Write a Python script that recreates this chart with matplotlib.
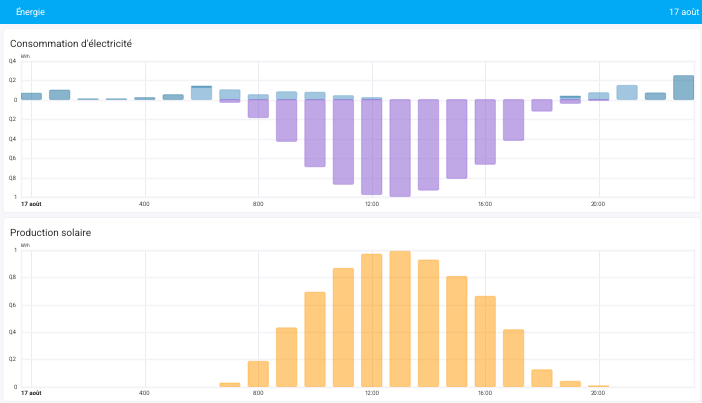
import matplotlib
matplotlib.use("Agg")
import matplotlib.pyplot as plt
from matplotlib.colors import to_rgba
from matplotlib.patches import FancyBboxPatch, Rectangle

plt.rcParams['font.family'] = ['Roboto', 'DejaVu Sans']
plt.rcParams['text.hinting'] = 'no_hinting'
plt.rcParams['text.hinting_factor'] = 1

W, H = 702, 403

hours = list(range(24))
# kWh
grid_used = [0.065, 0.097, 0.007, 0.007, 0.02, 0.05, 0.012, 0, 0, 0, 0, 0, 0, 0, 0, 0, 0, 0, 0, 0.012, 0, 0, 0.068, 0.245]
other_used = [0, 0, 0, 0, 0, 0, 0.126, 0.1, 0.05, 0.08, 0.075, 0.04, 0.02, 0, 0, 0, 0, 0, 0, 0.023, 0.07, 0.145, 0, 0]
returned = [0, 0, 0, 0, 0, 0, 0, 0.03, 0.186, 0.43, 0.69, 0.87, 0.975, 0.995, 0.93, 0.81, 0.665, 0.42, 0.12, 0.04, 0.01, 0, 0, 0]
solar = [0, 0, 0, 0, 0, 0, 0, 0.027, 0.185, 0.43, 0.69, 0.864, 0.968, 0.988, 0.925, 0.805, 0.66, 0.416, 0.124, 0.04, 0.007, 0, 0, 0]

hour_ticks = [0, 4, 8, 12, 16, 20]
hour_labels = ["17 août", "4:00", "8:00", "12:00", "16:00", "20:00"]
top_ticks = [0.4, 0.2, 0, -0.2, -0.4, -0.6, -0.8, -1]
top_labels = ["0,4", "0,2", "0", "0,2", "0,4", "0,6", "0,8", "1"]
bottom_ticks = [0, 0.2, 0.4, 0.6, 0.8, 1]
bottom_labels = ["0", "0,2", "0,4", "0,6", "0,8", "1"]

GRID_COL = "#126a9a"
OTHER_COL = "#488fc2"
RETURN_COL = "#8353d1"
SOLAR_COL = "#ff9800"
BAR_W = 0.72


def px_axes(fig, left, top, right, bottom):
    return fig.add_axes([left / W, 1 - bottom / H, (right - left) / W, (bottom - top) / H])


def bars(ax, values, color, base=None):
    base = base or [0] * len(values)
    xs = [h for h, v in zip(hours, values) if v != 0]
    vals = [v for v in values if v != 0]
    bots = [b for b, v in zip(base, values) if v != 0]
    container = ax.bar(xs, vals, width=BAR_W, bottom=bots, alpha=0)

    # coins arrondis : on remplace chaque barre par une boite de meme taille
    bbox = ax.get_position()
    x_per_px = (ax.get_xlim()[1] - ax.get_xlim()[0]) / (bbox.width * W)
    y_per_px = abs(ax.get_ylim()[1] - ax.get_ylim()[0]) / (bbox.height * H)
    aspect = y_per_px / x_per_px
    for rect in container:
        x, y, w, h = rect.get_x(), rect.get_y(), rect.get_width(), rect.get_height()
        if h < 0:
            y, h = y + h, -h
        r = min(1.4 * x_per_px, h / aspect / 2)
        ax.add_patch(FancyBboxPatch((x, y), w, h, boxstyle=f"round,pad=0,rounding_size={r}",
                                    mutation_aspect=aspect,
                                    facecolor=to_rgba(color, 0.5), edgecolor=to_rgba(color, 0.3),
                                    linewidth=0.8, zorder=3))


def setup(ax, ticks, labels, ylim):
    ax.set_xlim(-0.363, 23.36)
    ax.set_ylim(*ylim)
    ax.set_xticks(hour_ticks)
    ax.set_xticklabels(hour_labels, fontsize=4.1, color="#444444")
    ax.get_xticklabels()[0].set_fontweight('bold')
    ax.get_xticklabels()[0].set_color("#222222")
    ax.set_yticks(ticks)
    ax.set_yticklabels(labels, fontsize=4.1, color="#444444")
    ax.tick_params(length=0, pad=3)
    ax.grid(True, axis='y', color="#f3f3f7", lw=1, zorder=1)
    ax.grid(True, axis='x', color="#ebebf1", lw=0.7, zorder=1)
    ax.set_axisbelow(True)
    ax.patch.set_alpha(0)
    for s in ax.spines.values():
        s.set_color("#f1f1f7")
        s.set_linewidth(1)


fig = plt.figure(figsize=(W / 100, H / 100), dpi=100, facecolor="#f6f6fb")

# fond : bandeau et cartes, en pixels
bg = fig.add_axes([0, 0, 1, 1])
bg.set_xlim(0, W)
bg.set_ylim(H, 0)
bg.axis('off')
bg.add_patch(Rectangle((0, 0), W, 24, facecolor="#02a9f5", edgecolor='none'))
for top, bottom in [(28.5, 212.5), (217.5, 401.5)]:
    bg.add_patch(FancyBboxPatch((7, top + 4), 690, bottom - top - 8,
                                boxstyle="round,pad=4,rounding_size=4",
                                facecolor="white", edgecolor="#f0f0f5", lw=0.6))
bg.text(15, 12, "Énergie", color="white", fontsize=6.3, va='center')
bg.text(699, 12, "17 août", color="white", fontsize=6.3, va='center', ha='right')
bg.text(10, 43.8, "Consommation d'électricité", color="#333333", fontsize=7.3, va='center')
bg.text(10, 232.7, "Production solaire", color="#333333", fontsize=7.3, va='center')
bg.text(21, 56.5, "kWh", color="#555555", fontsize=3.6, va='center')
bg.text(21, 245.5, "kWh", color="#555555", fontsize=3.6, va='center')

ax1 = px_axes(fig, 21, 60.5, 694, 197)
setup(ax1, top_ticks, top_labels, (-1, 0.4))
bars(ax1, other_used, OTHER_COL)
bars(ax1, grid_used, GRID_COL, base=other_used)
bars(ax1, [-v for v in returned], RETURN_COL)

ax2 = px_axes(fig, 21, 249.7, 694, 386.7)
setup(ax2, bottom_ticks, bottom_labels, (0, 1))
bars(ax2, solar, SOLAR_COL)

fig.savefig("out.png", dpi=100, facecolor=fig.get_facecolor())
